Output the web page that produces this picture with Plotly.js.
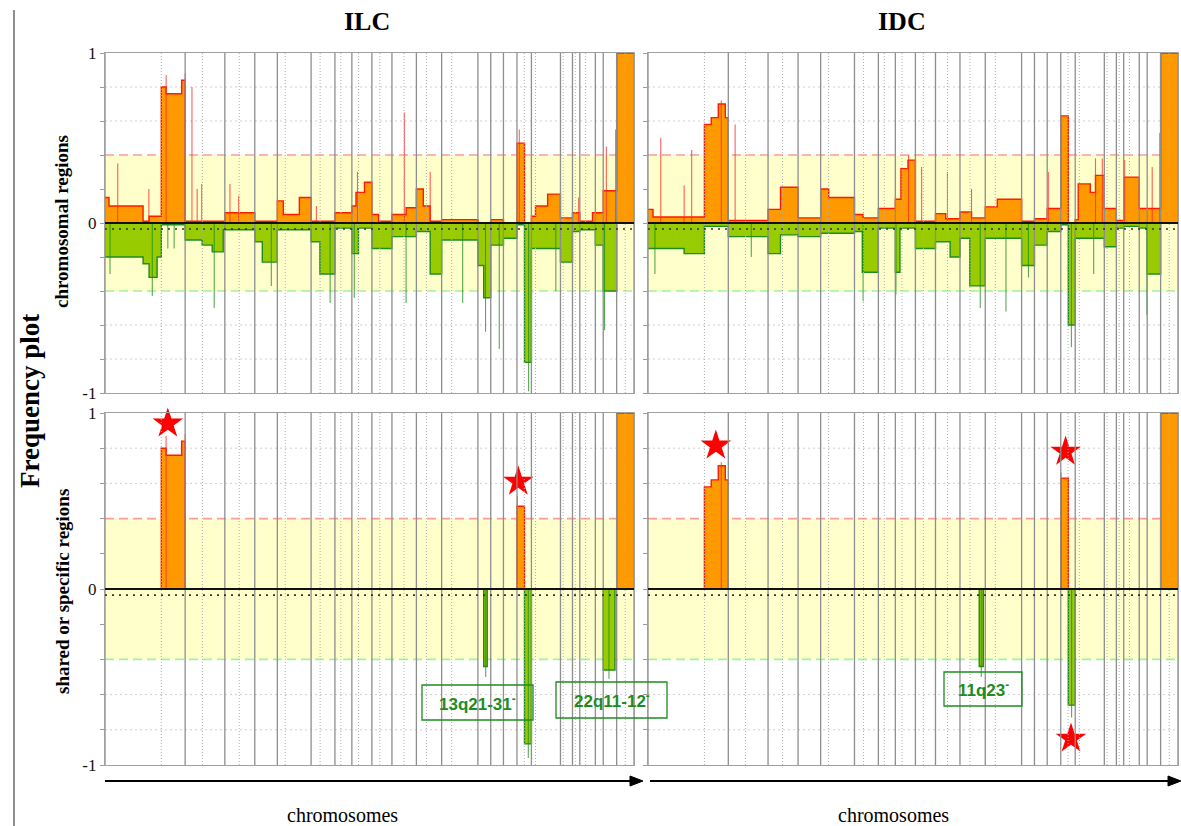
<!DOCTYPE html>
<html>
<head>
<meta charset="utf-8">
<script src="https://cdn.plot.ly/plotly-3.0.1.min.js"></script>
<style>
  html, body { margin: 0; padding: 0; background: #fff; }
  #chart { width: 1181px; height: 826px; }
</style>
</head>
<body>
<div id="chart"></div>
<script>
// Genome laid out on a probe index from 0 to 528 (chromosomes 1-22, X).
const genomeLength = 528;
const chromEdges = [0, 80, 119.6, 149.5, 172, 205.7, 229.5, 246.4, 266.4, 286.4, 310.8, 336,
  372.2, 385, 397.7, 411.2, 425.6, 454.6, 466.6, 473.9, 489.4, 497.3, 510.7, 528];
const centromeres = [56.2, 97.2, 134, 179.9, 214.7, 235.4, 253, 274.3, 298.4, 320.8, 346,
  418.5, 429.7, 457.3, 469.4, 479.7, 519.3];

// ILC: frequency of gains (step segments: edges and levels)
const ilcGainEdges = [0, 4, 38, 44, 56.2, 61, 76.5, 80, 119.6, 149.5, 172, 178, 194, 205.7,
  229.5, 246.4, 250.5, 259, 266.4, 273, 286.4, 300.5, 310.8, 317.7, 324.6, 336, 372.2, 385,
  397.7, 411.2, 418.7, 425.6, 429.7, 441.8, 454.6, 466.6, 473.9, 486.6, 497.3, 510.7, 528];
const ilcGainLevels = [0.15, 0.10, 0.01, 0.04, 0.80, 0.76, 0.84, 0.01, 0.06, 0.01, 0.13, 0.05,
  0.15, 0.01, 0.06, 0.10, 0.18, 0.24, 0.05, 0.01, 0.05, 0.09, 0.20, 0.10, 0.01, 0.02, 0.00,
  0.02, 0.00, 0.47, 0.00, 0.04, 0.10, 0.17, 0.03, 0.06, 0.01, 0.06, 0.19, 1.00];
const ilcGainSpikePos = [12.7, 43.8, 61, 80, 86.8, 92, 96.5, 124.7, 133.4, 211, 252, 298.8,
  324.6, 413.5, 472.8, 500.4, 509.7];
const ilcGainSpikeVal = [0.35, 0.20, 0.87, 0.88, 0.80, 0.20, 0.23, 0.23, 0.16, 0.10, 0.30,
  0.65, 0.30, 0.55, 0.15, 0.45, 0.55];

// ILC: frequency of losses
const ilcLossEdges = [0, 38, 44, 52, 56.2, 80, 97, 107, 118, 149.5, 157, 172, 205.7, 214.5,
  229.5, 246.4, 253, 266.4, 286.4, 310.8, 324.6, 336, 372.2, 378, 385, 397.7, 411.2, 418.7,
  425.6, 454.6, 466.6, 473.9, 489.4, 497.3, 510.7, 528];
const ilcLossLevels = [-0.20, -0.24, -0.32, -0.20, -0.01, -0.10, -0.13, -0.17, -0.04, -0.11,
  -0.23, -0.04, -0.11, -0.30, -0.03, -0.18, -0.03, -0.15, -0.08, -0.05, -0.30, -0.10, -0.25,
  -0.44, -0.13, -0.09, -0.01, -0.82, -0.15, -0.23, -0.05, -0.04, -0.13, -0.40, 0];
const ilcLossSpikePos = [5, 47.2, 62.7, 69, 109, 166, 224.7, 248.8, 300.5, 357, 379.8, 393.5,
  422.8, 450, 498.6];
const ilcLossSpikeVal = [-0.30, -0.43, -0.15, -0.15, -0.50, -0.37, -0.47, -0.44, -0.47, -0.47,
  -0.64, -0.74, -0.99, -0.40, -0.63];

// IDC: frequency of gains
const idcGainEdges = [0, 5, 56.2, 63, 70, 77, 80, 119.6, 132, 149.5, 172, 180, 205.7, 214.3,
  229.5, 246.4, 252, 259, 266.4, 286.4, 296.6, 310.8, 322.3, 336, 348, 372.2, 385, 397.7,
  411.2, 418.7, 425.6, 428.6, 440.6, 445.8, 454.6, 466.6, 473.9, 489.4, 510.7, 528];
const idcGainLevels = [0.08, 0.035, 0.58, 0.62, 0.70, 0.62, 0.015, 0.08, 0.21, 0.03, 0.20,
  0.15, 0.05, 0.03, 0.085, 0.14, 0.32, 0.37, 0.01, 0.055, 0.025, 0.065, 0.03, 0.095, 0.14,
  0.01, 0.025, 0.085, 0.63, 0.00, 0.02, 0.23, 0.18, 0.28, 0.085, 0.015, 0.27, 0.085, 1.00];
const idcGainSpikePos = [12.7, 36, 43.5, 73, 86.8, 259.6, 272.6, 298.3, 322.3, 398.8, 445.8,
  452.6, 474.9, 502.3, 509.9];
const idcGainSpikeVal = [0.50, 0.22, 0.43, 0.72, 0.58, 0.40, 0.33, 0.30, 0.20, 0.30, 0.38,
  0.38, 0.37, 0.33, 0.53];

// IDC: frequency of losses
const idcLossEdges = [0, 36, 56.2, 80, 119.6, 132, 149.5, 172, 205.7, 213.5, 229.5, 246.4,
  251, 266.4, 286.4, 301, 310.8, 320.6, 336, 372.2, 385, 397.7, 411.2, 418.7, 425.6, 454.6,
  466.6, 473.9, 489.4, 497.3, 510.7, 528];
const idcLossLevels = [-0.15, -0.18, -0.02, -0.08, -0.18, -0.07, -0.08, -0.06, -0.05, -0.29,
  -0.03, -0.29, -0.03, -0.15, -0.11, -0.20, -0.09, -0.37, -0.09, -0.25, -0.13, -0.05, -0.01,
  -0.60, -0.09, -0.14, -0.03, -0.02, -0.03, -0.30, 0];
const idcLossSpikePos = [6.9, 102.9, 214.3, 247, 331, 356.6, 379, 421.8, 444, 497];
const idcLossSpikeVal = [-0.30, -0.20, -0.46, -0.42, -0.50, -0.52, -0.32, -0.73, -0.30, -0.54];

// Shared or specific regions (significant alterations only)
const ilcSharedGainEdges = [0, 56.2, 61, 76.5, 80, 411.2, 418.7, 510.7, 528];
const ilcSharedGainLevels = [0, 0.80, 0.76, 0.84, 0, 0.47, 0, 1.00];
const ilcSharedGainSpikePos = [61, 80, 411.6];
const ilcSharedGainSpikeVal = [0.87, 0.88, 0.53];
const ilcSharedLossEdges = [0, 378, 381.5, 418.7, 425.6, 497.3, 509, 528];
const ilcSharedLossLevels = [0, -0.44, 0, -0.88, 0, -0.46, 0];
const ilcSharedLossSpikePos = [380, 422.5, 503];
const ilcSharedLossSpikeVal = [-0.50, -0.96, -0.51];
const ilcStarPos = [62.7, 412.5, 415.4];
const ilcStarVal = [0.94, 0.61, -1.02];

const idcSharedGainEdges = [0, 56.2, 63, 70, 77, 80, 411.2, 418.7, 510.7, 528];
const idcSharedGainLevels = [0, 0.58, 0.62, 0.70, 0.62, 0, 0.63, 0, 1.00];
const idcSharedGainSpikePos = [73, 411.6];
const idcSharedGainSpikeVal = [0.72, 0.66];
const idcSharedLossEdges = [0, 330, 334, 418.7, 425.6, 528];
const idcSharedLossLevels = [0, -0.44, 0, -0.66, 0];
const idcSharedLossSpikePos = [332, 422];
const idcSharedLossSpikeVal = [-0.50, -0.73];
const idcStarPos = [67.6, 416, 421.4];
const idcStarVal = [0.815, 0.78, -0.85];

const yTickVals = [-1, 0, 1];
const yTickText = ['-1', '0', '1'];
const yMinorStep = 0.2;

const groupTitles = ['ILC', 'IDC'];
const rowTitles = ['chromosomal regions', 'shared or specific regions'];
const regionLabels = ['13q21-31', '22q11-12', '11q23'];

// ---- page geometry (pixels) ----
const W = 1181, H = 826;
const fx = v => v / W;
const fy = v => 1 - v / H;

const cols = [[105, 634], [648, 1178]];
const rows = [[53, 393], [413, 765]];

const panels = [
  { col: 0, row: 0, gain: [ilcGainEdges, ilcGainLevels], loss: [ilcLossEdges, ilcLossLevels],
    gs: [ilcGainSpikePos, ilcGainSpikeVal], ls: [ilcLossSpikePos, ilcLossSpikeVal] },
  { col: 1, row: 0, gain: [idcGainEdges, idcGainLevels], loss: [idcLossEdges, idcLossLevels],
    gs: [idcGainSpikePos, idcGainSpikeVal], ls: [idcLossSpikePos, idcLossSpikeVal] },
  { col: 0, row: 1, gain: [ilcSharedGainEdges, ilcSharedGainLevels],
    loss: [ilcSharedLossEdges, ilcSharedLossLevels],
    gs: [ilcSharedGainSpikePos, ilcSharedGainSpikeVal],
    ls: [ilcSharedLossSpikePos, ilcSharedLossSpikeVal], stars: [ilcStarPos, ilcStarVal] },
  { col: 1, row: 1, gain: [idcSharedGainEdges, idcSharedGainLevels],
    loss: [idcSharedLossEdges, idcSharedLossLevels],
    gs: [idcSharedGainSpikePos, idcSharedGainSpikeVal],
    ls: [idcSharedLossSpikePos, idcSharedLossSpikeVal], stars: [idcStarPos, idcStarVal] }
];

const traces = [];
const shapes = [];
const layout = {
  width: W, height: H, autosize: false,
  margin: { l: 0, r: 0, t: 0, b: 0 },
  paper_bgcolor: '#ffffff', plot_bgcolor: '#ffffff',
  showlegend: false, hovermode: false
};

function stepTrace(edges, levels, fillcolor, linecolor, xa, ya) {
  return {
    x: edges.slice(),
    y: levels.concat([levels[levels.length - 1]]),
    mode: 'lines', line: { shape: 'hv', color: linecolor, width: 1.4 },
    fill: 'tozeroy', fillcolor: fillcolor,
    xaxis: xa, yaxis: ya, hoverinfo: 'skip'
  };
}

function spikeTrace(pos, val, color, xa, ya) {
  const x = [], y = [];
  pos.forEach((p, i) => { x.push(p, p, null); y.push(0, val[i], null); });
  return { x, y, mode: 'lines', line: { color, width: 1.1 }, xaxis: xa, yaxis: ya, hoverinfo: 'skip' };
}

panels.forEach((p, i) => {
  const n = i === 0 ? '' : String(i + 1);
  const xa = 'x' + n, ya = 'y' + n;
  const [c0, c1] = cols[p.col];
  const [r0, r1] = rows[p.row];

  layout['xaxis' + n] = {
    domain: [fx(c0), fx(c1)], range: [0, genomeLength], anchor: ya,
    showgrid: false, zeroline: false, showticklabels: false, ticks: '',
    showline: true, mirror: true, linecolor: '#a0a0a0', linewidth: 1.2, fixedrange: true
  };
  layout['yaxis' + n] = {
    domain: [fy(r1), fy(r0)], range: [-1, 1], anchor: xa,
    showgrid: false, zeroline: false,
    tickmode: 'array', tickvals: yTickVals, ticktext: yTickText,
    showticklabels: p.col === 0,
    ticks: 'outside', ticklen: 4, tickcolor: '#9a9a9a', tickwidth: 1,
    minor: { tick0: 0, dtick: yMinorStep, ticks: 'outside', ticklen: 4, tickcolor: '#9a9a9a', tickwidth: 1, showgrid: false },
    tickfont: { family: 'Liberation Serif, Times New Roman, serif', size: 17, color: '#111' },
    showline: true, mirror: true, linecolor: '#a0a0a0', linewidth: 1.2, fixedrange: true
  };

  // neutral band, grid and thresholds
  shapes.push({ type: 'rect', xref: xa, yref: ya, x0: 0, x1: genomeLength, y0: -0.4, y1: 0.4,
    fillcolor: '#FFFFCC', line: { width: 0 }, layer: 'below' });
  [0.8, 0.6, -0.6, -0.8].forEach(v => shapes.push({ type: 'line', xref: xa, yref: ya,
    x0: 0, x1: genomeLength, y0: v, y1: v, line: { color: '#cfcfcf', width: 1, dash: '2px,3px' }, layer: 'below' }));
  shapes.push({ type: 'line', xref: xa, yref: ya, x0: 0, x1: genomeLength, y0: 0.4, y1: 0.4,
    line: { color: '#FF9C9C', width: 1.6, dash: '9px,5px' }, layer: 'below' });
  shapes.push({ type: 'line', xref: xa, yref: ya, x0: 0, x1: genomeLength, y0: -0.4, y1: -0.4,
    line: { color: '#9CF59C', width: 1.6, dash: '9px,5px' }, layer: 'below' });

  // chromosome boundaries and centromeres
  chromEdges.forEach(e => shapes.push({ type: 'line', xref: xa, yref: ya, x0: e, x1: e, y0: -1, y1: 1,
    line: { color: '#8e8e8e', width: 1.3 }, layer: 'above' }));
  centromeres.forEach(e => shapes.push({ type: 'line', xref: xa, yref: ya, x0: e, x1: e, y0: -1, y1: 1,
    line: { color: '#b0b0b0', width: 1, dash: '1px,2px' }, layer: 'above' }));

  // zero line and the dotted reference just below it
  shapes.push({ type: 'line', xref: xa, yref: ya, x0: 0, x1: genomeLength, y0: 0, y1: 0,
    line: { color: '#111', width: 2 }, layer: 'above' });
  shapes.push({ type: 'line', xref: xa, yref: ya, x0: 0, x1: genomeLength, y0: -0.035, y1: -0.035,
    line: { color: '#333', width: 1.6, dash: '2px,5px' }, layer: 'above' });

  traces.push(stepTrace(p.gain[0], p.gain[1], '#FF9900', '#FF1A00', xa, ya));
  traces.push(stepTrace(p.loss[0], p.loss[1], '#99CC00', '#1E8C1E', xa, ya));
  traces.push(spikeTrace(p.gs[0], p.gs[1], 'rgba(255,40,40,0.75)', xa, ya));
  traces.push(spikeTrace(p.ls[0], p.ls[1], 'rgba(30,140,30,0.75)', xa, ya));
  if (p.stars) {
    traces.push({ x: p.stars[0], y: p.stars[1], mode: 'markers', cliponaxis: false,
      marker: { symbol: 'star', size: 23, color: '#FF0000', line: { width: 0 } },
      xaxis: xa, yaxis: ya, hoverinfo: 'skip' });
  }
});

// frame line on the far left
shapes.push({ type: 'line', xref: 'paper', yref: 'paper', x0: fx(14), x1: fx(14), y0: fy(10), y1: fy(826),
  line: { color: '#444', width: 1.2 } });

// region label boxes
const boxes = [[422, 533, 685, 720], [556, 667, 682, 718], [944, 1022, 672, 706]];
boxes.forEach(b => shapes.push({ type: 'rect', xref: 'paper', yref: 'paper',
  x0: fx(b[0]), x1: fx(b[1]), y0: fy(b[3]), y1: fy(b[2]),
  fillcolor: 'rgba(255,255,255,0)', line: { color: '#1E8C1E', width: 1.3 }, layer: 'above' }));

// genome direction arrows (shaft + head)
const arrows = [[105, 643], [650, 1181]];
const arrowY = 781;
arrows.forEach(a => {
  shapes.push({ type: 'line', xref: 'paper', yref: 'paper', x0: fx(a[0]), x1: fx(a[1] - 8),
    y0: fy(arrowY), y1: fy(arrowY), line: { color: '#000', width: 2 } });
  shapes.push({ type: 'path', xref: 'paper', yref: 'paper',
    path: `M ${fx(a[1])} ${fy(arrowY)} L ${fx(a[1] - 13)} ${fy(arrowY - 5)} L ${fx(a[1] - 13)} ${fy(arrowY + 5)} Z`,
    fillcolor: '#000', line: { color: '#000', width: 1 } });
});

layout.shapes = shapes;

const serif = 'Liberation Serif, Times New Roman, serif';
const ann = [];
ann.push({ text: '<b>' + groupTitles[0] + '</b>', x: fx(367), y: fy(21), font: { family: serif, size: 26, color: '#000' } });
ann.push({ text: '<b>' + groupTitles[1] + '</b>', x: fx(902), y: fy(21), font: { family: serif, size: 26, color: '#000' } });
ann.push({ text: '<b>Frequency plot</b>', x: fx(30), y: fy(401), textangle: -90, font: { family: serif, size: 27, color: '#000' } });
ann.push({ text: '<b>' + rowTitles[0] + '</b>', x: fx(62), y: fy(222), textangle: -90, font: { family: serif, size: 19, color: '#000' } });
ann.push({ text: '<b>' + rowTitles[1] + '</b>', x: fx(62), y: fy(592), textangle: -90, font: { family: serif, size: 19, color: '#000' } });
ann.push({ text: 'chromosomes', x: fx(342), y: fy(815), font: { family: serif, size: 20, color: '#000' } });
ann.push({ text: 'chromosomes', x: fx(893), y: fy(815), font: { family: serif, size: 20, color: '#000' } });
boxes.forEach((b, i) => ann.push({
  text: '<b>' + regionLabels[i] + '<sup>-</sup></b>',
  x: fx((b[0] + b[1]) / 2), y: fy((b[2] + b[3]) / 2),
  font: { family: 'Liberation Sans, Arial, sans-serif', size: 17, color: '#1E8C1E' }
}));

layout.annotations = ann.map(a => Object.assign({ xref: 'paper', yref: 'paper', showarrow: false,
  xanchor: 'center', yanchor: 'middle' }, a));

Plotly.newPlot('chart', traces, layout, { staticPlot: true, displayModeBar: false });
</script>
</body>
</html>
